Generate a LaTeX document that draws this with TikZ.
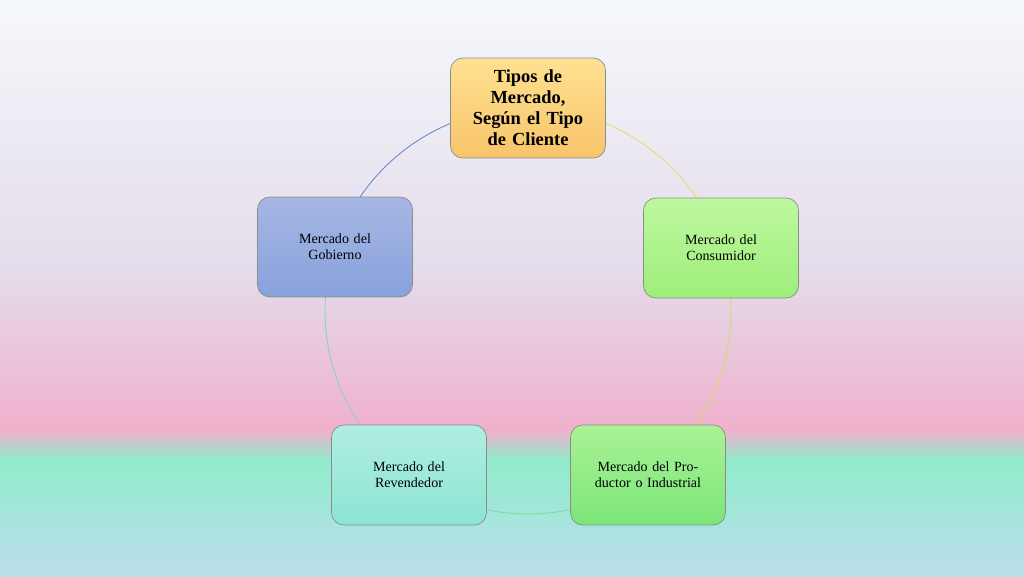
\documentclass[tikz,border=0pt]{standalone}
\usepackage{fontspec}
\setmainfont{Liberation Serif}
\usetikzlibrary{positioning}
\definecolor{bgtop}{HTML}{F5F8FC}
\definecolor{bgmid}{HTML}{E4DCEA}
\definecolor{bgpink}{HTML}{F0B0CC}
\definecolor{bgmint}{HTML}{90ECCC}
\definecolor{bgbot}{HTML}{BCDDEC}
\tikzset{
  tipo/.style={rectangle, rounded corners=7pt, draw=black!45, line width=0.4pt,
    minimum width=3.1cm, minimum height=2cm, text width=2.5cm, align=center,
    font=\fontsize{8}{9}\selectfont},
  ring/.style={line width=0.5pt}
}
\begin{document}
\begin{tikzpicture}[x=0.02cm,y=0.02cm]
  \useasboundingbox (0,0) rectangle (1024,576);
  % fondo
  \shade[top color=bgtop, bottom color=bgmid] (0,576) rectangle (1024,306);
  \shade[top color=bgmid, bottom color=bgpink] (0,306) rectangle (1024,146);
  \shade[top color=bgpink, bottom color=bgmint] (0,146) rectangle (1024,116);
  \shade[top color=bgmint, bottom color=bgbot] (0,116) rectangle (1024,0);
  % anillo
  \coordinate (c) at (528,265);
  \draw[ring, draw={rgb,255:red,240;green,215;blue,110}] (c) ++(90:4.06cm) arc (90:18:4.06cm);
  \draw[ring, draw={rgb,255:red,200;green,225;blue,110}] (c) ++(18:4.06cm) arc (18:-54:4.06cm);
  \draw[ring, draw={rgb,255:red,130;green,220;blue,150}] (c) ++(-54:4.06cm) arc (-54:-126:4.06cm);
  \draw[ring, draw={rgb,255:red,140;green,205;blue,210}] (c) ++(-126:4.06cm) arc (-126:-198:4.06cm);
  \draw[ring, draw={rgb,255:red,100;green,140;blue,200}] (c) ++(162:4.06cm) arc (162:90:4.06cm);
  % nodos
  \node[tipo, top color={rgb,255:red,255;green,225;blue,145}, bottom color={rgb,255:red,247;green,196;blue,106},
    font=\fontsize{10.5}{12}\selectfont\bfseries, text width=2.6cm] (tipos) at (528,468)
    {Tipos de Mercado, Según el Tipo de Cliente};
  \node[tipo, top color={rgb,255:red,190;green,248;blue,160}, bottom color={rgb,255:red,158;green,238;blue,122}]
    (consumidor) at (721,328) {Mercado del Consumidor};
  \node[tipo, top color={rgb,255:red,170;green,242;blue,150}, bottom color={rgb,255:red,122;green,230;blue,120}]
    (productor) at (648,101) {Mercado del Productor o Industrial};
  \node[tipo, top color={rgb,255:red,176;green,238;blue,226}, bottom color={rgb,255:red,140;green,228;blue,210}]
    (revendedor) at (409,101) {Mercado del Revendedor};
  \node[tipo, top color={rgb,255:red,166;green,182;blue,228}, bottom color={rgb,255:red,136;green,162;blue,220}]
    (gobierno) at (335,329) {Mercado del Gobierno};
\end{tikzpicture}
\end{document}
